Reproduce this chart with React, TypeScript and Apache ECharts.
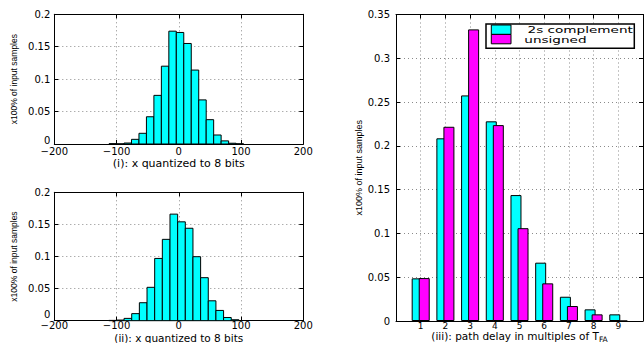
import React, { useEffect, useRef } from 'react';
import * as echarts from 'echarts';

// ---- data ----
const HIST1_CENTERS = [-106, -94, -82, -70, -58, -46, -34, -22, -10, 2, 14, 26, 38, 50, 62, 74, 86, 98];
const HIST1_VALUES = [0.0005, 0.0002, 0.0015, 0.0072, 0.0165, 0.042, 0.075, 0.12, 0.174, 0.172, 0.155, 0.114, 0.068, 0.0375, 0.0139, 0.0048, 0.0012, 0.0003];
const HIST1_BIN = 12;

const HIST2_CENTERS = [-106.4, -94.1, -81.8, -69.5, -57.2, -44.9, -32.6, -20.3, -8, 4.3, 16.6, 28.9, 41.2, 53.5, 65.8, 78.1, 90.4];
const HIST2_VALUES = [0.0005, 0.001, 0.0036, 0.011, 0.028, 0.052, 0.097, 0.1267, 0.166, 0.154, 0.144, 0.0997, 0.067, 0.031, 0.016, 0.005, 0.0015];
const HIST2_BIN = 12.3;

const DELAY_CATEGORIES = ['1', '2', '3', '4', '5', '6', '7', '8', '9'];
const TWOS_COMPLEMENT = [0.0487, 0.2086, 0.2576, 0.228, 0.1438, 0.0666, 0.0277, 0.0133, 0.0076];
const UNSIGNED = [0.049, 0.2218, 0.333, 0.2237, 0.106, 0.043, 0.0171, 0.0076, 0];

const SERIES_NAMES = ['2s complement', 'unsigned'];

const HIST_X_TICKS = { min: -200, max: 200, interval: 100 };
const HIST_Y_TICKS = { min: 0, max: 0.2, interval: 0.05 };
const DELAY_Y_TICKS = { min: 0, max: 0.35, interval: 0.05 };

const Y_NAME = 'x100% of input samples';
const X_NAME_1 = '(i): x quantized to 8 bits';
const X_NAME_2 = '(ii): x quantized to 8 bits';
const X_NAME_3 = '(iii): path delay in multiples of T{sub|FA}';

// ---- styles ----
const FONT = "'DejaVu Sans', sans-serif";
const NAME_FONT = "'Liberation Sans', Arial, sans-serif";
const CYAN = '#00ffff';
const MAGENTA = '#ff00ff';
const GRID_LINE = { show: true, lineStyle: { color: '#8a8a8a', type: [1, 3], width: 1 } };
const AXIS_LINE = { show: true, onZero: false, lineStyle: { color: '#000', width: 1 } };
const TICK = { show: true, inside: true, length: 4, lineStyle: { color: '#000', width: 1 } };
const minus = (v: any) => String(v).replace('-', '\u2212');
const liftZero = (v: any) => (v === 0 ? '{z|0}' : String(v));

function histAxes(gridIndex: number, name: string, nameGap: number, labelMargin: number, nameSize: number, zeroLift: number) {
  const x = [
    {
      type: 'value', gridIndex, ...HIST_X_TICKS, position: 'bottom',
      axisLine: AXIS_LINE, axisTick: TICK, splitLine: GRID_LINE,
      axisLabel: { margin: labelMargin, fontFamily: FONT, fontSize: 10, lineHeight: 10, color: '#000', formatter: minus },
      name, nameLocation: 'middle', nameGap, nameMoveOverlap: false,
      nameTextStyle: { fontFamily: FONT, fontSize: nameSize, lineHeight: 12, color: '#000' },
    },
    {
      type: 'value', gridIndex, ...HIST_X_TICKS, position: 'top',
      axisLine: AXIS_LINE, axisTick: TICK, splitLine: { show: false }, axisLabel: { show: false },
    },
  ];
  const y = [
    {
      type: 'value', gridIndex, ...HIST_Y_TICKS, position: 'left',
      axisLine: AXIS_LINE, axisTick: TICK, splitLine: GRID_LINE,
      axisLabel: {
        margin: 4, fontFamily: FONT, fontSize: 10, color: '#000', formatter: liftZero,
        rich: { z: { fontFamily: FONT, fontSize: 10, color: '#000', padding: [0, 0, zeroLift, 0] } },
      },
      name: Y_NAME, nameLocation: 'middle', nameGap: 35.5, nameMoveOverlap: false,
      nameTextStyle: { fontFamily: NAME_FONT, fontSize: 8.5, color: '#000' },
    },
    {
      type: 'value', gridIndex, ...HIST_Y_TICKS, position: 'right',
      axisLine: AXIS_LINE, axisTick: TICK, splitLine: { show: false }, axisLabel: { show: false },
    },
  ];
  return { x, y };
}

function histSeries(axisIndex: number, centers: number[], values: number[], bin: number) {
  return {
    type: 'custom',
    xAxisIndex: axisIndex,
    yAxisIndex: axisIndex,
    data: centers.map((c, i) => [c, values[i]]),
    encode: { x: 0, y: 1 },
    renderItem: (_params: any, api: any) => {
      const x = api.value(0);
      const y = api.value(1);
      const tl = api.coord([x - bin / 2, y]);
      const br = api.coord([x + bin / 2, 0]);
      return {
        type: 'rect',
        shape: { x: tl[0], y: tl[1], width: br[0] - tl[0], height: br[1] - tl[1] },
        style: { fill: CYAN, stroke: '#000', lineWidth: 1 },
      };
    },
  };
}

export default function App() {
  const ref = useRef<HTMLDivElement>(null);
  useEffect(() => {
    document.body.style.margin = '0';
    const chart = echarts.init(ref.current!, null, { renderer: 'svg' });
    const h1 = histAxes(0, X_NAME_1, 13, 2, 11, 8);
    const h2 = histAxes(1, X_NAME_2, 10.8, 0, 10.5, 13);
    const axisCats = ['0', ...DELAY_CATEGORIES, '10'];
    const hideEnds = (v: string) => (v === '0' || v === '10' ? '' : v);
    const legendText = {
      fontFamily: FONT, fontSize: 8.5, fill: '#000', verticalAlign: 'middle', align: 'left',
    };
    const option: any = {
      animation: false,
      backgroundColor: '#fff',
      grid: [
        { left: 54.3, top: 14.3, width: 249, height: 129.7, outerBoundsMode: 'none' },
        { left: 54.3, top: 192.3, width: 249, height: 128.4, outerBoundsMode: 'none' },
        { left: 396, top: 14.5, width: 247, height: 306.5, outerBoundsMode: 'none' },
      ],
      graphic: [
        { type: 'rect', z: 100, shape: { x: 486, y: 24, width: 148.3, height: 24.3 }, style: { fill: '#fff', stroke: '#000', lineWidth: 1.5 } },
        { type: 'rect', z: 101, shape: { x: 491.3, y: 25, width: 19.7, height: 9.4 }, style: { fill: CYAN, stroke: '#000', lineWidth: 1 } },
        { type: 'rect', z: 101, shape: { x: 491.3, y: 34.4, width: 19.7, height: 9.4 }, style: { fill: MAGENTA, stroke: '#000', lineWidth: 1 } },
        { type: 'text', z: 101, x: 527.5, y: 30, scaleX: 1.6, style: { ...legendText, text: SERIES_NAMES[0] } },
        { type: 'text', z: 101, x: 524.3, y: 40, scaleX: 1.6, style: { ...legendText, text: SERIES_NAMES[1] } },
      ],
      xAxis: [
        ...h1.x,
        ...h2.x,
        {
          type: 'category', gridIndex: 2, data: axisCats, boundaryGap: false, position: 'bottom',
          axisLine: AXIS_LINE, axisTick: { ...TICK, interval: 0 }, splitLine: { ...GRID_LINE, interval: 0 },
          axisLabel: { margin: 0, fontFamily: FONT, fontSize: 9, lineHeight: 9, color: '#000', formatter: hideEnds, interval: 0 },
          name: X_NAME_3, nameLocation: 'middle', nameGap: 9, nameMoveOverlap: false,
          nameTextStyle: {
            fontFamily: FONT, fontSize: 10.5, color: '#000', lineHeight: 12,
            rich: { sub: { fontFamily: FONT, fontSize: 7.5, lineHeight: 7.5, padding: [7, 0, 0, 0], color: '#000' } },
          },
        },
        {
          type: 'category', gridIndex: 2, data: axisCats, boundaryGap: false, position: 'top',
          axisLine: AXIS_LINE, axisTick: { ...TICK, interval: 0 }, splitLine: { show: false }, axisLabel: { show: false },
        },
      ],
      yAxis: [
        ...h1.y,
        ...h2.y,
        {
          type: 'value', gridIndex: 2, ...DELAY_Y_TICKS, position: 'left',
          axisLine: AXIS_LINE, axisTick: TICK, splitLine: GRID_LINE,
          axisLabel: { margin: 6, fontFamily: FONT, fontSize: 10, color: '#000' },
          name: Y_NAME, nameLocation: 'middle', nameGap: 33, nameMoveOverlap: false,
          nameTextStyle: { fontFamily: NAME_FONT, fontSize: 9, color: '#000' },
        },
        {
          type: 'value', gridIndex: 2, ...DELAY_Y_TICKS, position: 'right',
          axisLine: AXIS_LINE, axisTick: TICK, splitLine: { show: false }, axisLabel: { show: false },
        },
      ],
      series: [
        histSeries(0, HIST1_CENTERS, HIST1_VALUES, HIST1_BIN),
        histSeries(2, HIST2_CENTERS, HIST2_VALUES, HIST2_BIN),
        {
          type: 'bar', name: SERIES_NAMES[0], xAxisIndex: 4, yAxisIndex: 4,
          data: [null, ...TWOS_COMPLEMENT, null],
          barWidth: 11, barGap: '-36%',
          itemStyle: { color: CYAN, borderColor: '#000', borderWidth: 1 },
        },
        {
          type: 'bar', name: SERIES_NAMES[1], xAxisIndex: 4, yAxisIndex: 4,
          data: [null, ...UNSIGNED, null],
          barWidth: 11, barGap: '-36%',
          itemStyle: { color: MAGENTA, borderColor: '#000', borderWidth: 1 },
        },
      ],
    };
    chart.setOption(option);
    return () => chart.dispose();
  }, []);
  return <div ref={ref} style={{ width: 644, height: 343 }} />;
}
